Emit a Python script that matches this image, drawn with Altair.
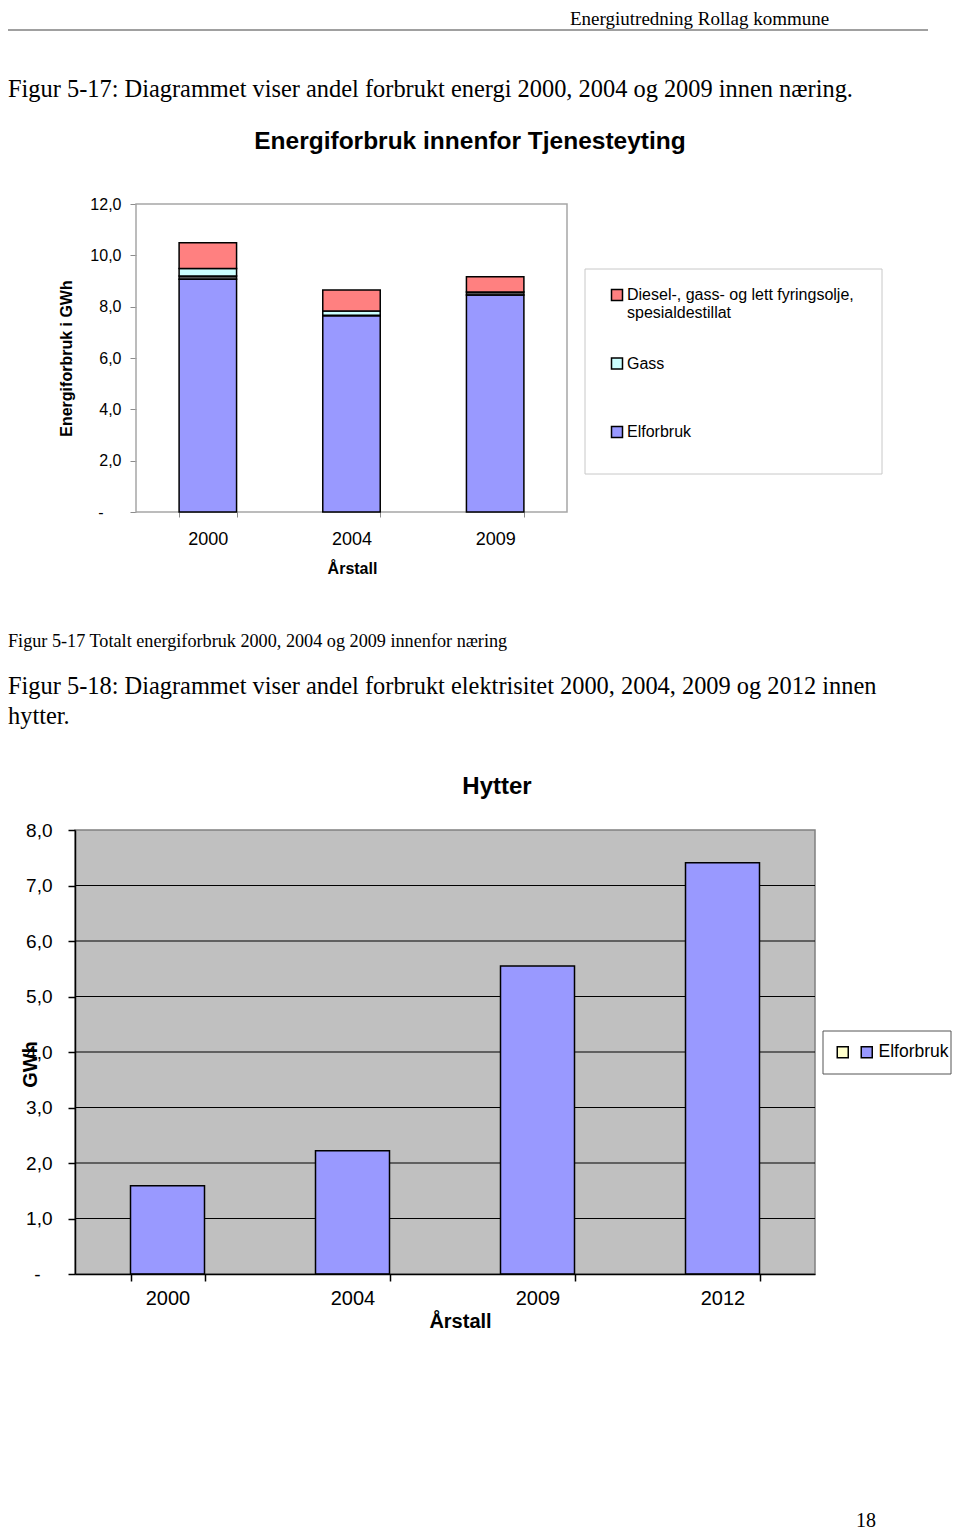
import altair as alt
import pandas as pd

SANS = "Liberation Sans"
SERIF = "Liberation Serif"
W, H = 944, 1522

# ---------------- Figure 5-17 data ----------------
years1 = ["2000", "2004", "2009"]
elforbruk1 = [9.07, 7.65, 8.45]
annet1 = [0.12, 0.02, 0.12]
gass1 = [0.30, 0.16, 0.0]
diesel1 = [1.00, 0.82, 0.60]
series1 = ["Elforbruk", "Annet", "Gass",
           "Diesel-, gass- og lett fyringsolje, spesialdestillat"]
colors1 = ["#9999FF", "#4D4D4D", "#CCFFFF", "#FF8080"]
legend1 = [series1[3], series1[2], series1[0]]
yticks1 = [0, 2, 4, 6, 8, 10, 12]

# ---------------- Figure 5-18 data ----------------
years2 = ["2000", "2004", "2009", "2012"]
elforbruk2 = [1.59, 2.22, 5.55, 7.41]
series2 = [" ", "Elforbruk"]
colors2 = ["#FFFFCC", "#9999FF"]
yticks2 = [0, 1, 2, 3, 4, 5, 6, 7, 8]
grid2 = [1, 2, 3, 4, 5, 6, 7]

rows1 = []
for i, yr in enumerate(years1):
    for k, (s, vals) in enumerate(zip(series1, [elforbruk1, annet1, gass1, diesel1])):
        rows1.append({"year": yr, "series": s, "value": vals[i], "ord": k})
df1 = pd.DataFrame(rows1)
df2 = pd.DataFrame({"year": years2, "value": elforbruk2, "series": "Elforbruk"})
dfgrid = pd.DataFrame({"g": grid2})


def one():
    return alt.Data(values=[{"t": 0}])


def txt(s, x, y, size, font=SERIF, weight="normal", align="left", baseline="alphabetic"):
    return alt.Chart(alt.Data(values=[{"t": s}])).mark_text(
        font=font, fontSize=size, fontWeight=weight, align=align,
        baseline=baseline, color="black"
    ).encode(text="t:N", x=alt.value(x), y=alt.value(y))


def frame(x, x2, y, y2, stroke, sw=1.0, fill=None):
    kw = dict(stroke=stroke, strokeWidth=sw)
    if fill is None:
        kw["fillOpacity"] = 0
        kw["fill"] = "white"
    else:
        kw["fill"] = fill
    return alt.Chart(one()).mark_rect(**kw).encode(
        x=alt.value(x), x2=alt.value(x2), y=alt.value(y), y2=alt.value(y2))


# ---------------- page texts ----------------
header_rule = alt.Chart(one()).mark_rule(color="#808080", strokeWidth=1.5).encode(
    x=alt.value(0), x2=alt.value(920), y=alt.value(22))
texts = [
    txt("Energiutredning Rollag kommune", 562, 17, 19),
    txt("Figur 5-17: Diagrammet viser andel forbrukt energi 2000, 2004 og 2009 innen næring.",
        0, 89, 24.4),
    txt("Energiforbruk innenfor Tjenesteyting", 462, 134, 24.5, font=SANS, weight="bold",
        align="center", baseline="middle"),
    txt("Figur 5-17 Totalt energiforbruk 2000, 2004 og 2009 innenfor næring", 0, 634, 18.2,
        baseline="middle"),
    txt("Figur 5-18: Diagrammet viser andel forbrukt elektrisitet 2000, 2004, 2009 og 2012 innen",
        0, 679, 24.4, baseline="middle"),
    txt("hytter.", 0, 709, 24.4, baseline="middle"),
    txt("Hytter", 489, 779, 24, font=SANS, weight="bold", align="center", baseline="middle"),
    txt("18", 858, 1513, 20, align="center", baseline="middle"),
]

# ---------------- chart 1 ----------------
frame1 = frame(128, 559, 196, 504, "#A6A6A6", 1.5)
legbox1 = frame(577, 874, 261, 466, "#C8C8C8", 1.0)

lab1 = "datum.value == 0 ? '-' : replace(format(datum.value, '.1f'), '.', ',')"
legexpr1 = ("datum.label == '" + series1[3] + "' ? ['Diesel-, gass- og lett fyringsolje,', "
            "'spesialdestillat'] : [datum.label, '']")

bars1 = alt.Chart(df1).mark_bar(stroke="black", strokeWidth=1.5).encode(
    x=alt.X("year:N", sort=years1,
            scale=alt.Scale(domain=years1, range=[128, 559], paddingInner=0.6, paddingOuter=0.3),
            axis=alt.Axis(orient="bottom", offset=504 - H, domain=False, tickBand="extent",
                          tickSize=5, tickColor="#8C8C8C", tickWidth=1, labelFont=SANS,
                          labelFontSize=18, labelColor="black", labelPadding=13, labelAngle=0,
                          title="Årstall", titleFont=SANS, titleFontSize=16,
                          titleFontWeight="bold", titleColor="black", titleX=344, titleY=56,
                          titleBaseline="middle", grid=False)),
    y=alt.Y("value:Q", stack="zero",
            scale=alt.Scale(domain=[0, 12], range=[504, 196], nice=False, zero=True),
            axis=alt.Axis(orient="left", offset=-128, values=yticks1, domain=False, tickSize=6,
                          tickColor="#8C8C8C", labelExpr=lab1, labelFont=SANS, labelFontSize=16,
                          labelColor="black",
                          labelPadding={"condition": {"test": "datum.value === 0", "value": 27},
                                        "value": 9},
                          title="Energiforbruk i GWh",
                          titleFont=SANS, titleFontSize=16, titleFontWeight="bold",
                          titleColor="black", titleX=-70, titleY=350, titleAngle=270,
                          titleBaseline="middle", titleAlign="center", grid=False)),
    color=alt.Color("series:N",
                    scale=alt.Scale(domain=series1, range=colors1),
                    legend=alt.Legend(values=legend1, orient="none", legendX=601, legendY=279,
                                      title=None, direction="vertical", symbolType="square",
                                      symbolSize=121, symbolStrokeColor="black",
                                      symbolStrokeWidth=1.5, labelFont=SANS, labelFontSize=16,
                                      labelColor="black", labelOffset=2, labelLimit=0,
                                      labelExpr=legexpr1, rowPadding=33.5, padding=0)),
    order=alt.Order("ord:Q"),
)

# ---------------- chart 2 ----------------
bg2 = frame(67, 807, 822, 1266, "#808080", 1.5, fill="#C0C0C0")
legbox2 = frame(815, 943, 1023, 1066, "#555555", 1.0)

grid_rules = alt.Chart(dfgrid).mark_rule(color="black", strokeWidth=1).encode(
    y=alt.Y("g:Q", scale=alt.Scale(domain=[0, 8], range=[1266, 822], nice=False), axis=None),
    x=alt.value(67), x2=alt.value(807))

lab2 = "datum.value == 0 ? '-' : replace(format(datum.value, '.1f'), '.', ',')"

bars2 = alt.Chart(df2).mark_bar(stroke="black", strokeWidth=1.5).encode(
    x=alt.X("year:N", sort=years2,
            scale=alt.Scale(domain=years2, range=[67, 807], paddingInner=0.6, paddingOuter=0.3),
            axis=alt.Axis(orient="bottom", offset=1266 - H, domain=True, domainColor="black",
                          domainWidth=1.5, tickBand="extent", tickSize=7, tickColor="black",
                          tickWidth=1.5, labelFont=SANS, labelFontSize=20, labelColor="black",
                          labelPadding=7, labelAngle=0, title="Årstall", titleFont=SANS,
                          titleFontSize=20, titleFontWeight="bold", titleColor="black",
                          titleX=452, titleY=47, titleBaseline="middle", grid=False, zindex=1)),
    y=alt.Y("value:Q",
            scale=alt.Scale(domain=[0, 8], range=[1266, 822], nice=False, zero=True),
            axis=alt.Axis(orient="left", offset=-67, values=yticks2, domain=True,
                          domainColor="black", domainWidth=1.5, tickSize=7, tickColor="black",
                          tickWidth=1.5, labelExpr=lab2, labelFont=SANS, labelFontSize=19,
                          labelColor="black",
                          labelPadding={"condition": {"test": "datum.value === 0", "value": 28},
                                        "value": 16},
                          title="GWh", titleFont=SANS,
                          titleFontSize=20, titleFontWeight="bold", titleColor="black",
                          titleX=-45, titleY=1056, titleAngle=270, titleBaseline="middle",
                          titleAlign="center", grid=False, zindex=1)),
    color=alt.Color("series:N",
                    scale=alt.Scale(domain=series2, range=colors2),
                    legend=alt.Legend(orient="none", legendX=826, legendY=1035, title=None,
                                      direction="horizontal", symbolType="square",
                                      symbolSize=121, symbolStrokeColor="black",
                                      symbolStrokeWidth=1.5, labelFont=SANS, labelFontSize=17.5,
                                      labelColor="black", labelOffset=3, labelLimit=0,
                                      columnPadding=3, padding=0)),
)

chart = alt.layer(
    header_rule, *texts, frame1, bars1, legbox1, bg2, grid_rules, bars2, legbox2
).resolve_scale(
    x="independent", y="independent", color="independent"
).resolve_axis(
    x="independent", y="independent"
).resolve_legend(
    color="independent"
).properties(
    width=W, height=H, padding=0, autosize=alt.AutoSizeParams(type="none")
).configure_view(stroke=None)

chart.save("out.html", embed_options={"renderer": "svg", "actions": False})
